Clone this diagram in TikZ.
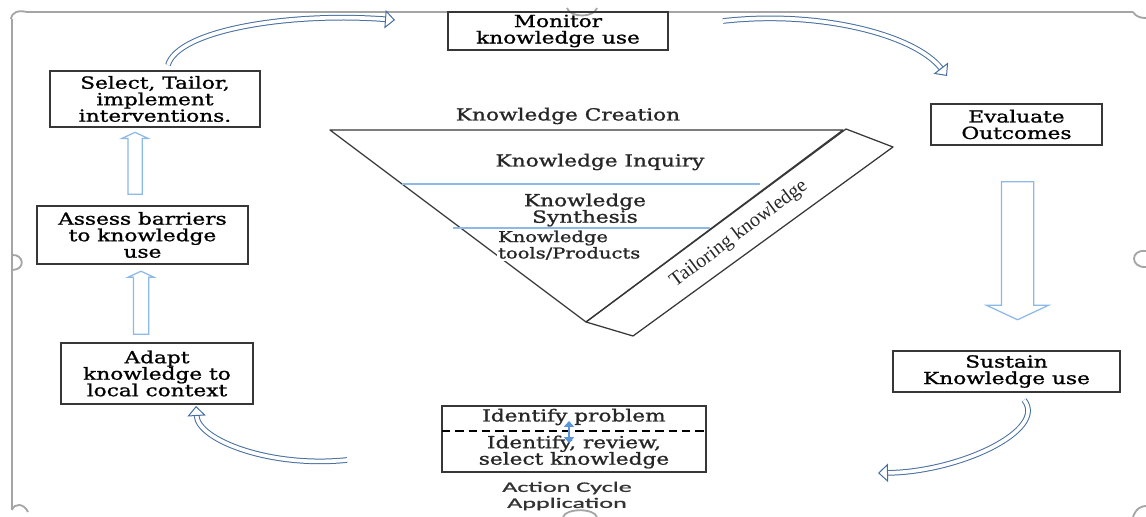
\documentclass[tikz,border=0pt]{standalone}
\usepackage{fontspec}
\setmainfont{DejaVu Serif}[FakeStretch=1.3, FakeBold=1.2]
\newfontfamily\tailorfont{Liberation Serif}
\newfontfamily\cyclefont{Carlito}[FakeStretch=1.8, FakeBold=1.2]
\usetikzlibrary{arrows.meta,shapes.arrows}

\definecolor{framegray}{RGB}{165,165,165}
\definecolor{boxgray}{RGB}{55,55,55}
\definecolor{curveblue}{RGB}{70,110,160}
\definecolor{paleblue}{RGB}{140,185,230}
\definecolor{midblue}{RGB}{90,150,215}
\newcommand{\boxfont}{\fontsize{10}{9.9}\selectfont}

\tikzset{
  stagebox/.style={draw=boxgray, line width=0.85pt, align=center, inner sep=0pt, font=\boxfont},
  plaintext/.style={align=center, inner sep=0pt, text=black!85, font=\boxfont},
  triline/.style={draw=boxgray, line width=0.75pt, line join=round},
  layerline/.style={draw=paleblue, line width=0.7pt},
  blockarrow/.style={single arrow, draw=paleblue, line width=0.75pt, inner sep=0pt,
    text depth=0pt, single arrow tip angle=130, single arrow head indent=0pt},
  curvearrow/.style={draw=curveblue, double=white, double distance=2.2pt, line width=0.6pt,
    -{Triangle[open, length=6pt, width=11pt, line width=0.6pt]}},
  handle/.style={draw=framegray, line width=1.1pt}
}

\begin{document}
\begin{tikzpicture}[x=0.6pt, y=-0.6pt]
    \useasboundingbox (0,0) rectangle (1146,517);

    %% frame of the canvas
    \draw [handle] (12,19) -- (12,510);
    \draw [handle] (27,12) -- (1133,12);
    \draw [handle] (11,19) .. controls (12,12) and (18,10) .. (27,12);
    \draw [handle] (567,8) .. controls (570,18) and (594,18) .. (597,8);
    \draw [handle] (1133,12) .. controls (1136,17) and (1141,18) .. (1146,18);
    \draw [handle] (12,255) .. controls (24,254) and (26,270) .. (12,270);
    \draw [handle] (1146,251) .. controls (1130,249) and (1130,268) .. (1146,267);
    \draw [handle] (12,510) .. controls (14,503) and (24,503) .. (28,512);
    \draw [handle] (563,517) .. controls (566,508) and (594,508) .. (597,517);
    \draw [handle] (1133,517) .. controls (1136,508) and (1142,506) .. (1146,506);

    %% action cycle stages
    \node [stagebox, minimum width=132pt, minimum height=22.8pt] (monitor) at (558,31) {Monitor\\knowledge use};
    \node [stagebox, minimum width=126pt, minimum height=33.6pt] (select) at (155,99) {Select, Tailor,\\implement\\interventions.};
    \node [stagebox, minimum width=126.6pt, minimum height=34.8pt] (assess) at (142.5,235) {Assess barriers\\to knowledge\\use};
    \node [stagebox, minimum width=115.2pt, minimum height=36.6pt] (adapt) at (157,373.5) {Adapt\\knowledge to\\local context};
    \node [stagebox, minimum width=102.6pt, minimum height=24.6pt] (evaluate) at (1016.5,124.5) {Evaluate\\Outcomes};
    \node [stagebox, minimum width=136.2pt, minimum height=24.6pt] (sustain) at (1006.5,371.5) {Sustain\\Knowledge use};
    \node [stagebox, minimum width=158.4pt, minimum height=39.6pt] (identify) at (574,439) {};
    \node [plaintext] (problem) at (574,417) {Identify problem};
    \node [plaintext] (review) at (574,452) {Identify, review,\\select knowledge};
    \draw [black, line width=0.9pt, dash pattern=on 5pt off 3pt] (442,431) -- (706,431);
    \node [plaintext, font=\cyclefont\fontsize{8.7}{9.6}\selectfont, text=black!80] (cycle) at (567,496) {Action Cycle\\Application};

    %% small two-way arrow in the first stage
    \coordinate (twotop) at (569,421);
    \coordinate (twobot) at (569,443);
    \draw [midblue, line width=1.3pt, {Triangle[length=3.5pt,width=6pt]}-{Triangle[length=3.5pt,width=6pt]}] (twotop) -- (twobot);

    %% straight block arrows
    \node [blockarrow, rotate=90, minimum height=37.2pt, text height=7.8pt, single arrow head extend=3.6pt] (uparrow1) at (135,165) {};
    \node [blockarrow, rotate=90, minimum height=37.8pt, text height=8.4pt, single arrow head extend=3.3pt] (uparrow2) at (141,304.5) {};
    \node [blockarrow, rotate=-90, minimum height=82.8pt, text height=18.6pt, single arrow head extend=9pt] (downarrow) at (1017.5,247) {};

    %% curved arrows of the cycle
    \coordinate (selout) at (168,65);
    \coordinate (monin) at (395,20);
    \coordinate (monout) at (723,21);
    \coordinate (evain) at (947,76);
    \coordinate (susout) at (1024,400);
    \coordinate (idfin) at (878,473);
    \coordinate (idfout) at (347,460);
    \coordinate (adain) at (196,406);
    \draw [curvearrow] (selout) .. controls (178,30) and (290,12) .. (monin);
    \draw [curvearrow] (monout) .. controls (820,10) and (915,35) .. (evain);
    \draw [curvearrow] (susout) .. controls (1048,430) and (960,472) .. (idfin);
    \draw [curvearrow] (idfout) .. controls (270,468) and (198,440) .. (adain);

    %% knowledge creation funnel
    \coordinate (funtl) at (330,130);
    \coordinate (funtr) at (843,130);
    \coordinate (funbot) at (586,322);
    \coordinate (tailtl) at (846,129);
    \coordinate (tailtr) at (893,147);
    \coordinate (tailbot) at (633,336);
    \draw [triline] (funtl) -- (funtr) -- (funbot) -- cycle;
    \draw [triline] (funbot) -- (tailtl) -- (tailtr) -- (tailbot) -- cycle;

    \node [plaintext] (creation) at (568,116) {Knowledge Creation};
    \node [plaintext] (inquiry) at (600,162) {Knowledge Inquiry};
    \node [plaintext] (synthesis) at (585,210) {Knowledge\\Synthesis};
    \node [plaintext, align=left, anchor=north west, fill=white, inner sep=0.5pt,
      font=\fontsize{9}{7.8}\selectfont] (tools) at (497,229.5) {Knowledge\\tools/Products};
    \draw [layerline] (402,184) -- (760,184);
    \draw [layerline] (453,228) -- (710,228);
    \node [plaintext, rotate=36.8, font=\tailorfont\fontsize{12}{13}\selectfont] (tailoring) at (739,234) {Tailoring knowledge};
\end{tikzpicture}
\end{document}
